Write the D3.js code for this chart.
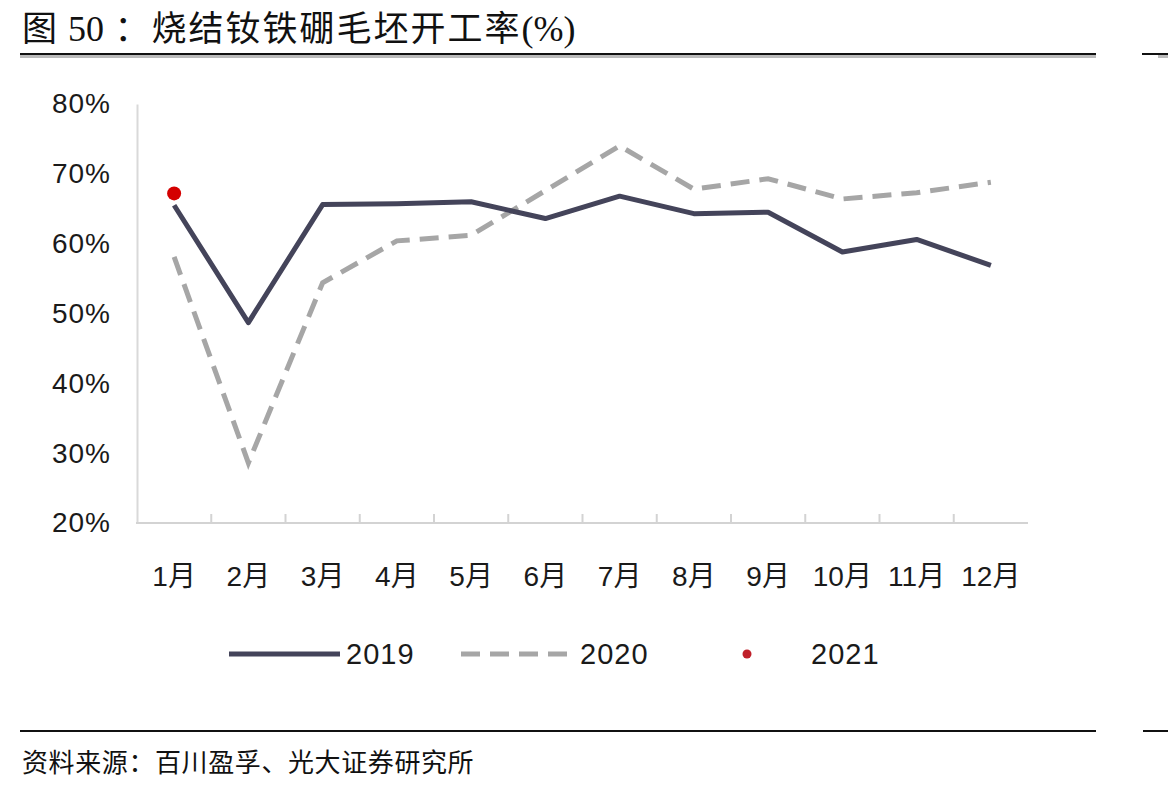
<!DOCTYPE html>
<html>
<head>
<meta charset="utf-8">
<script src="https://cdn.jsdelivr.net/npm/d3@7"></script>
<style>
  body { margin: 0; background: #fff; }
  svg { display: block; }
</style>
</head>
<body>
<svg id="chart" width="1168" height="791"></svg>
<script>
const months = ["1月","2月","3月","4月","5月","6月","7月","8月","9月","10月","11月","12月"];
const v2019 = [65.5, 48.7, 65.6, 65.7, 66.0, 63.6, 66.8, 64.3, 64.5, 58.8, 60.6, 56.9];
const v2020 = [58.1, 28.6, 54.4, 60.4, 61.2, 67.6, 74.0, 67.8, 69.3, 66.4, 67.3, 68.8];
const v2021 = [67.2];
const yTicks = [20, 30, 40, 50, 60, 70, 80];

const svg = d3.select("#chart");
const cjk = "'Noto Sans CJK SC', sans-serif";
const latin = "'Liberation Sans', Arial, sans-serif";
const serif = "'Liberation Serif', 'Times New Roman', serif";

// title: CJK chars take a full cell, ASCII runs half a cell per char
const titleStr = "图 50：烧结钕铁硼毛坯开工率(%)";
const adv = 37;
const runs = [];
Array.from(titleStr).forEach(c => {
  const half = c.charCodeAt(0) < 128;
  const last = runs[runs.length - 1];
  if (half && last && last.half) last.s += c;
  else runs.push({ s: c, half });
});
let tx = 22;
runs.forEach(r => {
  r.x = tx;
  tx += r.half ? r.s.length * adv / 2 : adv;
});
svg.append("g").selectAll("text")
  .data(runs)
  .join("text")
  .attr("x", d => d.x).attr("y", 41)
  .attr("font-family", d => d.half ? serif : cjk)
  .attr("font-size", d => d.half ? 36 : 35)
  .attr("xml:space", "preserve")
  .style("white-space", "pre")
  .attr("fill", "#111")
  .text(d => d.s);

// top and bottom rules
const rule = (y, x1, x2) => {
  svg.append("line").attr("x1", x1).attr("x2", x2).attr("y1", y).attr("y2", y)
    .attr("stroke", "#111").attr("stroke-width", 2);
};
rule(54, 20, 1096);
svg.append("rect").attr("x", 20).attr("y", 55).attr("width", 1076).attr("height", 3).attr("fill", "#bbb");
rule(54, 1142, 1168);
svg.append("rect").attr("x", 1158).attr("y", 55).attr("width", 10).attr("height", 3).attr("fill", "#bbb");
rule(731, 20, 1096);
rule(731, 1143, 1168);

// source
svg.append("text")
  .attr("x", 22).attr("y", 772)
  .attr("font-family", cjk).attr("font-size", 26).attr("letter-spacing", 0.6)
  .attr("fill", "#111")
  .text("资料来源：百川盈孚、光大证券研究所");

// scales
const x = d3.scaleBand().domain(months).range([137, 1028]).padding(0);
const y = d3.scaleLinear().domain([20, 80]).range([523, 104]);
const cx = m => x(m) + x.bandwidth() / 2;

// y axis
const yAxis = svg.append("g").attr("transform", "translate(137,0)")
  .call(d3.axisLeft(y).tickValues(yTicks).tickSize(0).tickPadding(26).tickFormat(d => d + "%"));
yAxis.select(".domain").attr("stroke", "#d9d9d9").attr("stroke-width", 2);
yAxis.selectAll("text").attr("font-family", latin).attr("font-size", 28)
  .attr("letter-spacing", 1).attr("fill", "#1a1a1a");

// x axis
svg.append("line").attr("x1", 136).attr("x2", 1028).attr("y1", 523).attr("y2", 523)
  .attr("stroke", "#d3d3d3").attr("stroke-width", 2);
svg.append("g").selectAll("line")
  .data(months.slice(1))
  .join("line")
  .attr("x1", d => x(d)).attr("x2", d => x(d))
  .attr("y1", 523).attr("y2", 514)
  .attr("stroke", "#d3d3d3").attr("stroke-width", 2);
svg.append("g").selectAll("text")
  .data(months)
  .join("text")
  .attr("x", d => cx(d)).attr("y", 586)
  .attr("text-anchor", "middle")
  .attr("font-family", latin).attr("font-size", 28).attr("fill", "#1a1a1a")
  .each(function(d) {
    const t = d3.select(this);
    t.append("tspan").text(d.replace("月", ""));
    t.append("tspan").attr("font-family", cjk).attr("font-size", 28).text("月");
  });

// lines
const line = d3.line().x((d, i) => cx(months[i])).y(d => y(d));
svg.append("path").datum(v2020)
  .attr("d", line)
  .attr("fill", "none").attr("stroke", "#a6a6a6").attr("stroke-width", 5)
  .attr("stroke-dasharray", "19,10");
svg.append("path").datum(v2019)
  .attr("d", line)
  .attr("fill", "none").attr("stroke", "#44445a").attr("stroke-width", 5)
  .attr("stroke-linejoin", "round");
svg.append("g").selectAll("circle")
  .data(v2021)
  .join("circle")
  .attr("cx", (d, i) => cx(months[i])).attr("cy", d => y(d))
  .attr("r", 7).attr("fill", "#d40000");

// legend
const lg = svg.append("g").attr("font-family", latin).attr("font-size", 29)
  .attr("letter-spacing", 1).attr("fill", "#1a1a1a");
lg.append("line").attr("x1", 229).attr("x2", 340).attr("y1", 654).attr("y2", 654)
  .attr("stroke", "#44445a").attr("stroke-width", 5);
lg.append("text").attr("x", 346).attr("y", 664).text("2019");
lg.append("line").attr("x1", 461).attr("x2", 576).attr("y1", 654).attr("y2", 654)
  .attr("stroke", "#a6a6a6").attr("stroke-width", 5).attr("stroke-dasharray", "19,10");
lg.append("text").attr("x", 580).attr("y", 664).text("2020");
lg.append("circle").attr("cx", 747).attr("cy", 654).attr("r", 4.5).attr("fill", "#c0202a");
lg.append("text").attr("x", 811).attr("y", 664).text("2021");
</script>
</body>
</html>
